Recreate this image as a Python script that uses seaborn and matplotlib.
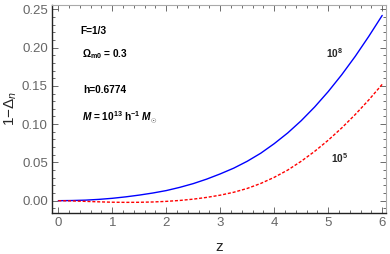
import pandas as pd
import seaborn as sns
import matplotlib.pyplot as plt
import matplotlib.ticker as ticker

# values
z = [0.0, 0.25, 0.5, 0.75, 1.0, 1.25, 1.5, 1.75, 2.0, 2.25, 2.5, 2.75, 3.0,
     3.25, 3.5, 3.75, 4.0, 4.25, 4.5, 4.75, 5.0, 5.25, 5.5, 5.75, 6.0]
delta_1e8 = [0.0, 0.0002, 0.0007, 0.0017, 0.0031, 0.0050, 0.0073, 0.0100, 0.0132,
             0.0174, 0.0223, 0.0282, 0.0350, 0.0425, 0.0515, 0.0620, 0.0745,
             0.0885, 0.1045, 0.1225, 0.1425, 0.1645, 0.1885, 0.2145, 0.2420]
delta_1e5 = [0.0, -0.0003, -0.0009, -0.0015, -0.0020, -0.0022, -0.0021, -0.0017,
             -0.0009, 0.0003, 0.0020, 0.0043, 0.0072, 0.0110, 0.0160, 0.0225,
             0.0305, 0.0400, 0.0515, 0.0645, 0.0790, 0.0950, 0.1125, 0.1315, 0.1520]
series_names = ["1e8", "1e5"]
curve_labels = [r"$\mathbf{10^8}$", r"$\mathbf{10^5}$"]

df = pd.DataFrame({
    "z": z + z,
    "val": delta_1e8 + delta_1e5,
    "mass": [series_names[0]] * len(z) + [series_names[1]] * len(z),
})

sns.set_style("ticks")
plt.rcParams["font.family"] = ["Liberation Sans", "DejaVu Sans"]
plt.rcParams["mathtext.fontset"] = "custom"
plt.rcParams["mathtext.rm"] = "Liberation Sans"
plt.rcParams["mathtext.it"] = "Liberation Sans:italic"
plt.rcParams["mathtext.bf"] = "Liberation Sans:bold"
plt.rcParams["mathtext.bfit"] = "Liberation Sans:italic:bold"

fig, ax = plt.subplots(figsize=(3.9, 2.54), dpi=100)
fig.subplots_adjust(left=0.1333, right=0.9897, top=0.980, bottom=0.1626)

sns.lineplot(
    data=df, x="z", y="val", hue="mass", style="mass",
    palette={"1e8": "#0000ff", "1e5": "#ff0000"},
    dashes={"1e8": "", "1e5": (2.2, 1.3)},
    linewidth=1.0, legend=False, ax=ax,
)

ax.set_xlim(-0.117, 6.07)
ax.set_ylim(-0.0157, 0.2555)
ax.xaxis.set_major_locator(ticker.MultipleLocator(1))
ax.xaxis.set_minor_locator(ticker.MultipleLocator(0.2))
ax.yaxis.set_major_locator(ticker.MultipleLocator(0.05))
ax.yaxis.set_minor_locator(ticker.MultipleLocator(0.01))
ax.yaxis.set_major_formatter(ticker.FormatStrFormatter("%.2f"))

ax.tick_params(which="both", direction="in", top=True, right=True,
               color="#555555", width=0.6, labelcolor="#666666", labelsize=9.5)
ax.tick_params(which="major", length=4, pad=3)
ax.tick_params(which="minor", length=2.3)
ax.tick_params(axis="x", which="both", labeltop=False)
ax.tick_params(axis="y", which="both", labelright=False)

for side in ["left", "bottom"]:
    ax.spines[side].set_color("#222222")
    ax.spines[side].set_linewidth(1.0)
for side in ["top", "right"]:
    ax.spines[side].set_color("#aaaaaa")
    ax.spines[side].set_linewidth(0.8)

ax.set_xlabel("z", fontsize=11, labelpad=8)
ax.set_ylabel(r"1$-\Delta_n$", fontsize=11, labelpad=2)

txt = dict(fontsize=7.3, fontweight="bold", va="center", ha="left", color="black")
ax.text(0.40, 0.2215, "F=1/3", **txt)
ax.text(0.44, 0.1915, r"$\mathbf{\Omega_{m0}}$ = 0.3", **txt)
ax.text(0.46, 0.1445, "h=0.6774", **txt)
ax.text(0.44, 0.108, r"$\mathbfit{M}$ = 10$^{\mathbf{13}}$ h$^{\mathbf{-1}}$ $\mathbfit{M}_{\odot}$", **txt)

ax.text(5.11, 0.193, curve_labels[0], fontsize=7.3, ha="center", va="center")
ax.text(5.22, 0.0557, curve_labels[1], fontsize=7.3, ha="center", va="center")

fig.savefig("out.png", dpi=100)
